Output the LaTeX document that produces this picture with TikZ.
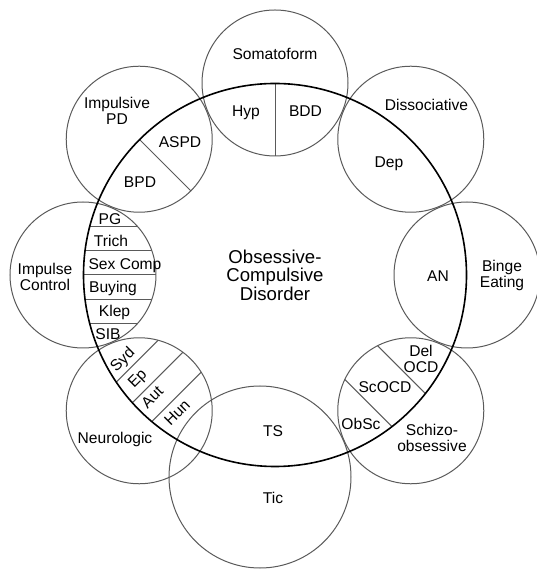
\documentclass[tikz,border=0pt]{standalone}
\usepackage{fontspec}
\setmainfont{Liberation Sans}
\usepackage{tikz}
\usetikzlibrary{positioning}
\definecolor{ringgray}{RGB}{90,90,90}

\begin{document}
\begin{tikzpicture}[x=0.5pt, y=0.5pt,
    sat/.style={circle, draw=ringgray, line width=0.5pt, minimum size=73pt, inner sep=0pt},
    ring/.style={circle, draw=black, line width=0.8pt, minimum size=191.5pt, inner sep=0pt, align=center, text depth=0pt, font=\fontsize{9.3pt}{9.2pt}\selectfont},
    divider/.style={draw=ringgray, line width=0.5pt},
    lbl/.style={inner sep=0pt, align=center, text depth=0pt, font=\fontsize{7.8pt}{8pt}\selectfont}
]
    \useasboundingbox (-275,-296) rectangle (261,275);

    \node[sat] (soma) at (90:192) {};
    \node[sat] (diss) at (45:192) {};
    \node[sat] (binge) at (0:192) {};
    \node[sat] (schizo) at (-45:192) {};
    \node[sat, minimum size=91pt] (tic) at (-15,-202) {};
    \node[sat] (neuro) at (-135:192) {};
    \node[sat] (imp) at (180:192) {};
    \node[sat] (ipd) at (135:192) {};

    \draw[divider] (soma.center) -- (soma.south);
    \draw[divider] (ipd.center) -- (ipd.south east);

    % bands inside the overlaps
    \begin{scope}
        \clip (0,0) circle [radius=191.5];
        \clip (imp.center) circle [radius=73];
        \foreach \off in {-48.6,-24.3,0,24.3,48.6}
            \draw[divider] (-300,\off) -- (-100,\off);
    \end{scope}
    \begin{scope}
        \clip (0,0) circle [radius=191.5];
        \clip (schizo.center) circle [radius=73];
        \foreach \off in {22.5,-24.5}
            \draw[divider, rotate=-45] (100,\off) -- (280,\off);
    \end{scope}
    \begin{scope}
        \clip (0,0) circle [radius=191.5];
        \clip (neuro.center) circle [radius=73];
        \foreach \off in {-36.5,-10.5,16.5}
            \draw[divider, rotate=-135] (100,\off) -- (280,\off);
    \end{scope}

    \node[ring] (ocd) at (0,0) {Obsessive-\\Compulsive\\Disorder};

    \node[lbl] (somaT) at (0,221) {Somatoform};
    \node[lbl] (hyp) at (-29,163.5) {Hyp};
    \node[lbl] (bdd) at (30.5,163.5) {BDD};
    \node[lbl] (dissT) at (151.5,170) {Dissociative};
    \node[lbl] (dep) at (114,113) {Dep};
    \node[lbl] (bingeT) at (227,1) {Binge\\Eating};
    \node[lbl] (an) at (163,-1.5) {AN};
    \node[lbl] (schizoT) at (157,-163) {Schizo-\\obsessive};
    \node[lbl] (delocd) at (146,-84) {Del\\OCD};
    \node[lbl] (scocd) at (110,-112) {ScOCD};
    \node[lbl] (obsc) at (86,-149) {ObSc};
    \node[lbl] (ts) at (-2,-156.5) {TS};
    \node[lbl] (ticT) at (-2,-222.5) {Tic};
    \node[lbl] (neuroT) at (-160,-162.5) {Neurologic};
    \node[lbl, rotate=45] (syd) at (-153,-84) {Syd};
    \node[lbl, rotate=45] (ep) at (-138,-103) {Ep};
    \node[lbl, rotate=45] (aut) at (-123,-122) {Aut};
    \node[lbl, rotate=45] (hun) at (-98,-138) {Hun};
    \node[lbl] (impT) at (-230,-2) {Impulse\\Control};
    \node[lbl] (pg) at (-165,55.5) {PG};
    \node[lbl] (trich) at (-164,34) {Trich};
    \node[lbl] (sexcomp) at (-150,11) {Sex Comp};
    \node[lbl] (buying) at (-162,-12) {Buying};
    \node[lbl] (klep) at (-160.5,-36) {Klep};
    \node[lbl] (sib) at (-167,-59) {SIB};
    \node[lbl] (ipdT) at (-158,164.5) {Impulsive\\PD};
    \node[lbl] (aspd) at (-95,133) {ASPD};
    \node[lbl] (bpd) at (-135,93) {BPD};
\end{tikzpicture}
\end{document}
